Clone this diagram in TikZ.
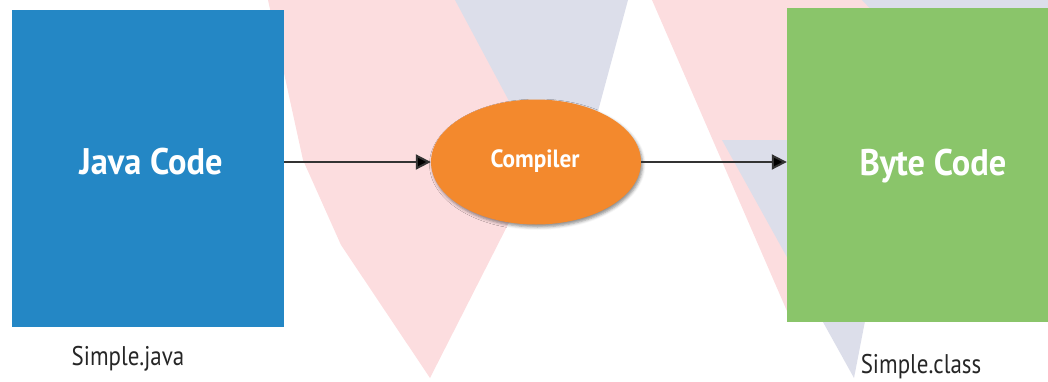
\documentclass[tikz,border=0pt]{standalone}
\usepackage{fontspec}
\setmainfont{PT Sans}
\newfontfamily\boldlabel[FakeStretch=0.93]{PT Sans Bold}
\newfontfamily\plainlabel[FakeStretch=0.85]{PT Sans}
\usetikzlibrary{arrows.meta,shadows.blur,shapes.geometric}
\definecolor{jblue}{HTML}{2487C5}
\definecolor{jgreen}{HTML}{8AC56A}
\definecolor{jorange}{HTML}{F3892D}
\definecolor{wmpink}{HTML}{FCDDDF}
\definecolor{wmblue}{HTML}{DCDEEA}
\definecolor{linegray}{HTML}{333333}
\tikzset{
  codebox/.style={rectangle, inner sep=0pt, draw=none},
  procnode/.style={ellipse, inner sep=0pt, fill=jorange, minimum width=210pt, minimum height=125pt,
    blur shadow={shadow xshift=1.5pt, shadow yshift=-2.5pt, shadow blur radius=3pt, shadow opacity=45}},
  boxtext/.style={text=white, font=\boldlabel\fontsize{37}{40}\selectfont, anchor=base, inner sep=0pt},
  proctext/.style={text=white, font=\boldlabel\fontsize{25}{28}\selectfont, anchor=base, inner sep=0pt},
  filetext/.style={text=black!85, font=\plainlabel\fontsize{27}{30}\selectfont, anchor=base, inner sep=0pt},
  conn/.style={draw=linegray, line width=2pt, -{Triangle[length=15pt, width=15pt, fill=black]}},
  wmpinkfill/.style={fill=wmpink, draw=none},
  wmbluefill/.style={fill=wmblue, draw=none}
}
\begin{document}
\begin{tikzpicture}[x=1pt,y=-1pt]
\useasboundingbox (0,0) rectangle (1048,381);
% faint watermark
\fill[wmpinkfill] (268,0) -- (622,0) -- (430,378) -- (341,245) -- (303,160) -- cycle;
\fill[wmbluefill] (455,0) -- (628,0) -- (570,215) -- cycle;
\fill[wmpinkfill] (652,0) -- (880,0) -- (860,300) -- (790,318) -- cycle;
\fill[wmbluefill] (862,0) -- (1048,0) -- (1048,40) -- (900,40) -- cycle;
\fill[wmbluefill] (722,140) -- (900,140) -- (854,378) -- cycle;
% boxes
\node[codebox, fill=jblue, minimum width=272pt, minimum height=317pt] (java) at (148,168.5) {};
\node[codebox, fill=jgreen, minimum width=261pt, minimum height=314pt] (byte) at (917.5,165) {};
\node[procnode] (comp) at (536,162) {};
% texts
\node[boxtext] (javat) at (151,174) {Java Code};
\node[boxtext] (bytet) at (933,175) {Byte Code};
\node[proctext] (compt) at (535,167) {Compiler};
\node[filetext] (javaf) at (128,365) {Simple.java};
\node[filetext] (bytef) at (921,373) {Simple.class};
% connectors
\draw[conn] (java.east |- comp.west) -- (comp.west);
\draw[conn] (comp.east) -- (comp.east -| byte.west);
\end{tikzpicture}
\end{document}
